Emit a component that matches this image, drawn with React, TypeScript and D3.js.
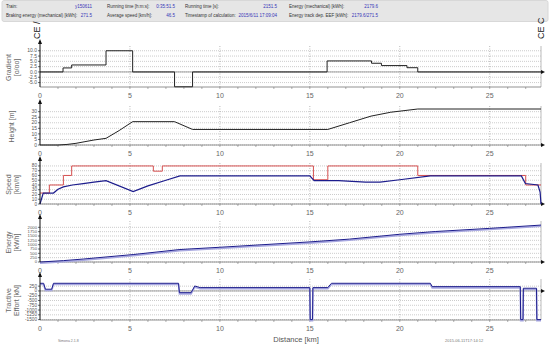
import React from 'react';
import * as d3 from 'd3';

// gradient [o/oo], step after each km mark
const gradKm = [0, 1.28, 1.76, 3.67, 5.15, 7.48, 8.48, 15.96, 18.43, 18.98, 20.4, 21.0, 27.85];
const gradVal = [0, 1.9, 3.3, 10, 0, -7, 0, 5.2, 4.1, 3.0, 2.0, 0, 0];

// height [m]
const hKm = [0, 1.0, 1.5, 2.0, 2.5, 3.0, 3.67, 4.4, 5.15, 7.48, 8.48, 16.0, 17.2, 18.4, 19.5, 21.0, 27.85];
const hVal = [0, 0, 0.5, 1.5, 3, 4.5, 6, 13, 21, 21, 14, 14, 20, 26, 29.5, 32.4, 32.4];

// speed limit [km/h], step after
const limKm = [0, 0.52, 1.3, 1.76, 6.3, 6.8, 15.2, 16.0, 21.0, 27.0, 27.85];
const limVal = [23, 40, 60, 80, 69, 80, 51, 80, 60, 40, 40];

// driven speed [km/h]
const spdKm = [0, 0.18, 0.75, 1.0, 1.3, 1.8, 2.4, 3.0, 3.67, 5.18, 6.0, 7.0, 7.78, 15.0, 15.24, 16.6, 18.1, 18.9, 20.0, 21.7, 26.76, 26.98, 27.68, 27.8, 27.85];
const spdVal = [0, 23, 23, 31, 36, 40, 43, 46, 49, 26, 38, 50, 59, 59, 49, 49, 46, 46, 51, 59, 59, 43, 40, 25, 0];

// energy [kWh]
const eKm = [0, 0.5, 1.3, 2.4, 3.67, 5.18, 7.78, 10, 15, 17.2, 20, 22, 25, 27.85];
const eVal = [0, 30, 80, 170, 290, 430, 720, 850, 1160, 1320, 1600, 1760, 1940, 2130];

// tractive effort [kN]
const teKm = [0, 0.2, 0.3, 0.65, 0.75, 7.7, 7.75, 8.4, 8.6, 8.9, 15.0, 15.02, 15.15, 15.17, 16.0, 16.2, 21.7, 21.8, 26.7, 26.72, 26.85, 26.87, 27.6, 27.62, 27.85];
const teVal = [400, 400, 90, 90, 400, 400, -90, -90, 260, 175, 175, -1500, -1500, 175, 175, 400, 400, 225, 225, -1500, -1500, 140, 140, -1500, -1500];

const xTicks = [0, 5, 10, 15, 20, 25];
const gradTicks = [10, 7.5, 5, 2.5, 0, -2.5, -5];
const hTicks = [30, 25, 20, 15, 10, 5, 0];
const spdTicks = [80, 70, 60, 50, 40, 30, 20, 10, 0];
const eTicks = [2000, 1750, 1500, 1250, 1000, 750, 500, 250, 0];
const teTicks = [250, 0, -250, -500, -750, -1000, -1250, -1500];

const headerRow1 = [
  ['Train:', 'y150611'],
  ['Running time [h:m:s]:', '0:35:51.5'],
  ['Running time [s]:', '2151.5'],
  ['Energy (mechanical) [kWh]:', '2179.6'],
];
const headerRow2 = [
  ['Braking energy (mechanical) [kWh]:', '271.5'],
  ['Average speed [km/h]:', '46.5'],
  ['Timestamp of calculation:', '2015/6/11 17:09:04'],
  ['Energy track dep. EEF [kWh]:', '2179.6/271.5'],
];
const colStart = [6, 107, 185, 289];
const colEnd = [92, 175, 277, 378];

const font = 'Liberation Sans, Arial, sans-serif';
const x = d3.scaleLinear().domain([0, 27.85]).range([40, 541]);
const zip = (a: number[], b: number[]) => a.map((v, i) => [v, b[i]] as [number, number]);

interface Series {
  pts: [number, number][];
  color: string;
  step?: boolean;
  shade?: boolean;
  width?: number;
}

interface PanelProps {
  top: number;
  bottom: number;
  domain: [number, number];
  ticks: number[];
  fmt: (v: number) => string;
  labels: string[];
  zero: number;
  series: Series[];
  zeroLine?: boolean;
}

const Panel: React.FC<PanelProps> = ({ top, bottom, domain, ticks, fmt, labels, zero, series, zeroLine }) => {
  const y = d3.scaleLinear().domain(domain).range([bottom, top]);
  const y0 = y(zero);
  const mid = (top + bottom) / 2;
  // tick labels are crowded in the original, keep them just under the spacing
  const gap = Math.abs(y(ticks[0]) - y(ticks[1]));
  const tickFs = Math.min(5, gap * 0.98);
  return (
    <g>
      {ticks.map(t => (
        <line key={'h' + t} x1={40} x2={541} y1={y(t)} y2={y(t)} stroke="#aaa" strokeWidth={0.6} strokeDasharray="1,1" />
      ))}
      {xTicks.filter(t => t > 0).map(t => (
        <line key={'v' + t} x1={x(t)} x2={x(t)} y1={top - 2} y2={bottom} stroke="#999" strokeWidth={0.7} strokeDasharray="1,1.5" />
      ))}
      <line x1={541} x2={541} y1={top - 2} y2={bottom} stroke="#bbb" strokeWidth={1} />
      <line x1={40} x2={541} y1={bottom} y2={bottom} stroke="#777" strokeWidth={0.8} />
      {d3.range(1, 28).map(k => (
        <line key={'m' + k} x1={x(k)} x2={x(k)} y1={bottom} y2={bottom + 2} stroke="#777" strokeWidth={0.6} />
      ))}
      {zeroLine && <line x1={40} x2={541} y1={y0} y2={y0} stroke="#888" strokeWidth={0.8} />}
      <path d={`M545,${y0}l-4,-2v4z`} fill="#111" />
      {series.map((s, i) => {
        const line = d3
          .line<[number, number]>()
          .x(d => x(d[0]))
          .y(d => y(d[1]))
          .curve(s.step ? d3.curveStepAfter : d3.curveLinear);
        return (
          <g key={i}>
            {s.shade && (
              <path d={line(s.pts) || ''} fill="none" stroke="#a8a8e0" strokeWidth={1.6} transform="translate(0,1.2)" />
            )}
            <path d={line(s.pts) || ''} fill="none" stroke={s.color} strokeWidth={s.width || 1} />
          </g>
        );
      })}
      <line x1={40} x2={40} y1={top - 7} y2={bottom} stroke="#111" strokeWidth={1} />
      <path d={`M40,${top - 9}l-2,5h4z`} fill="#111" />
      {ticks.map(t => (
        <g key={'t' + t}>
          <line x1={38} x2={40} y1={y(t)} y2={y(t)} stroke="#111" strokeWidth={0.6} />
          <text x={37} y={y(t)} dy="0.33em" textAnchor="end" fontSize={tickFs} fill="#555" fontFamily={font}>
            {fmt(t)}
          </text>
        </g>
      ))}
      {xTicks.map(t => (
        <text key={'x' + t} x={x(t)} y={bottom + 10.5} textAnchor="middle" fontSize={7} fill="#666" fontFamily={font}>
          {t}
        </text>
      ))}
      {labels.map((l, i) => (
        <text
          key={l}
          transform={`translate(${labels.length === 1 ? 14 : 11 + i * 8},${mid}) rotate(-90)`}
          textAnchor="middle"
          fontSize={7}
          fill="#666"
          fontFamily={font}
        >
          {l}
        </text>
      ))}
    </g>
  );
};

const App: React.FC = () => {
  return (
    <svg width={550} height={349} style={{ position: 'absolute', left: 0, top: 0, background: '#fff' }}>
      <rect x={2} y={0.5} width={546} height={21} rx={2} fill="#e6e6e6" stroke="#d8d8d8" />
      {[headerRow1, headerRow2].map((row, r) =>
        row.map((c, i) => (
          <g key={r + '-' + i} fontFamily={font} fontSize={4.5}>
            <text x={colStart[i]} y={8 + r * 9} fill="#333">
              {c[0]}
            </text>
            <text x={colEnd[i]} y={8 + r * 9} fill="#3535b8" textAnchor="end">
              {c[1]}
            </text>
          </g>
        ))
      )}
      <text transform="translate(40,39) rotate(-90)" fontSize={9} fill="#111" fontFamily={font}>
        CE /
      </text>
      <text transform="translate(544,39) rotate(-90)" fontSize={9} fill="#111" fontFamily={font}>
        CE C
      </text>

      <Panel
        top={48}
        bottom={87}
        domain={[-7.1, 11.3]}
        ticks={gradTicks}
        fmt={v => v.toFixed(1)}
        labels={['Gradient', '[o/oo]']}
        zero={0}
        zeroLine
        series={[{ pts: zip(gradKm, gradVal), color: '#222', step: true }]}
      />
      <Panel
        top={108}
        bottom={145}
        domain={[0, 33.3]}
        ticks={hTicks}
        fmt={v => String(v)}
        labels={['Height [m]']}
        zero={0}
        series={[{ pts: zip(hKm, hVal), color: '#222' }]}
      />
      <Panel
        top={165}
        bottom={204}
        domain={[0, 82]}
        ticks={spdTicks}
        fmt={v => String(v)}
        labels={['Speed', '[km/h]']}
        zero={0}
        series={[
          { pts: zip(limKm, limVal), color: '#d65050', step: true },
          { pts: zip(spdKm, spdVal), color: '#1c1c8c', width: 1.2 },
        ]}
      />
      <Panel
        top={223}
        bottom={262}
        domain={[0, 2250]}
        ticks={eTicks}
        fmt={v => String(v)}
        labels={['Energy', '[kWh]']}
        zero={0}
        series={[{ pts: zip(eKm, eVal), color: '#1c1c8c', shade: true }]}
      />
      <Panel
        top={281}
        bottom={320}
        domain={[-1520, 520]}
        ticks={teTicks}
        fmt={v => String(v)}
        labels={['Tractive', 'Effort [kN]']}
        zero={0}
        zeroLine
        series={[{ pts: zip(teKm, teVal), color: '#1c1c8c', shade: true }]}
      />

      <text x={296} y={342} textAnchor="middle" fontSize={7.5} fill="#555" fontFamily={font}>
        Distance [km]
      </text>
      <text x={58} y={342} fontSize={3.5} fill="#777" fontFamily={font}>
        Simona 2.1.8
      </text>
      <text x={445} y={342} fontSize={4} fill="#777" fontFamily={font}>
        2015-06-11T17:14:12
      </text>
    </svg>
  );
};

export default App;
